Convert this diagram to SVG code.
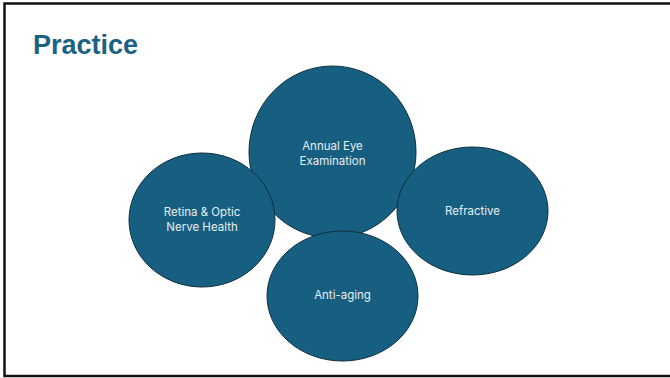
<svg xmlns="http://www.w3.org/2000/svg" width="670" height="378" viewBox="0 0 670 378">
<style>
.n{fill:#175F80;stroke:#0E2F3F;stroke-width:1}
.t{font-family:Inter,"Open Sans",sans-serif;font-size:11.5px;fill:#E6EEF2;text-anchor:middle}
</style>
<rect x="0" y="0" width="670" height="378" fill="#fff"/>
<rect x="4.5" y="3.5" width="680" height="372.5" fill="none" stroke="#111" stroke-width="2.5"/>
<text x="33" y="54" font-family="Liberation Sans,Arial,sans-serif" font-weight="bold" font-size="27" fill="#1A6283">Practice</text>
<g id="connectors"></g>
<g id="annual"><ellipse class="n" cx="332.5" cy="152" rx="83.5" ry="86"/><text class="t" x="332.5" y="150">Annual Eye</text><text class="t" x="332.5" y="165">Examination</text></g>
<g id="retina"><ellipse class="n" cx="202" cy="220" rx="73" ry="67"/><text class="t" x="202" y="216">Retina &amp; Optic</text><text class="t" x="202" y="231">Nerve Health</text></g>
<g id="refractive"><ellipse class="n" cx="472.5" cy="211" rx="75.5" ry="64"/><text class="t" x="472.5" y="215">Refractive</text></g>
<g id="antiaging"><ellipse class="n" cx="342.5" cy="296" rx="75.5" ry="65"/><text class="t" x="342.5" y="299">Anti-aging</text></g>
</svg>
